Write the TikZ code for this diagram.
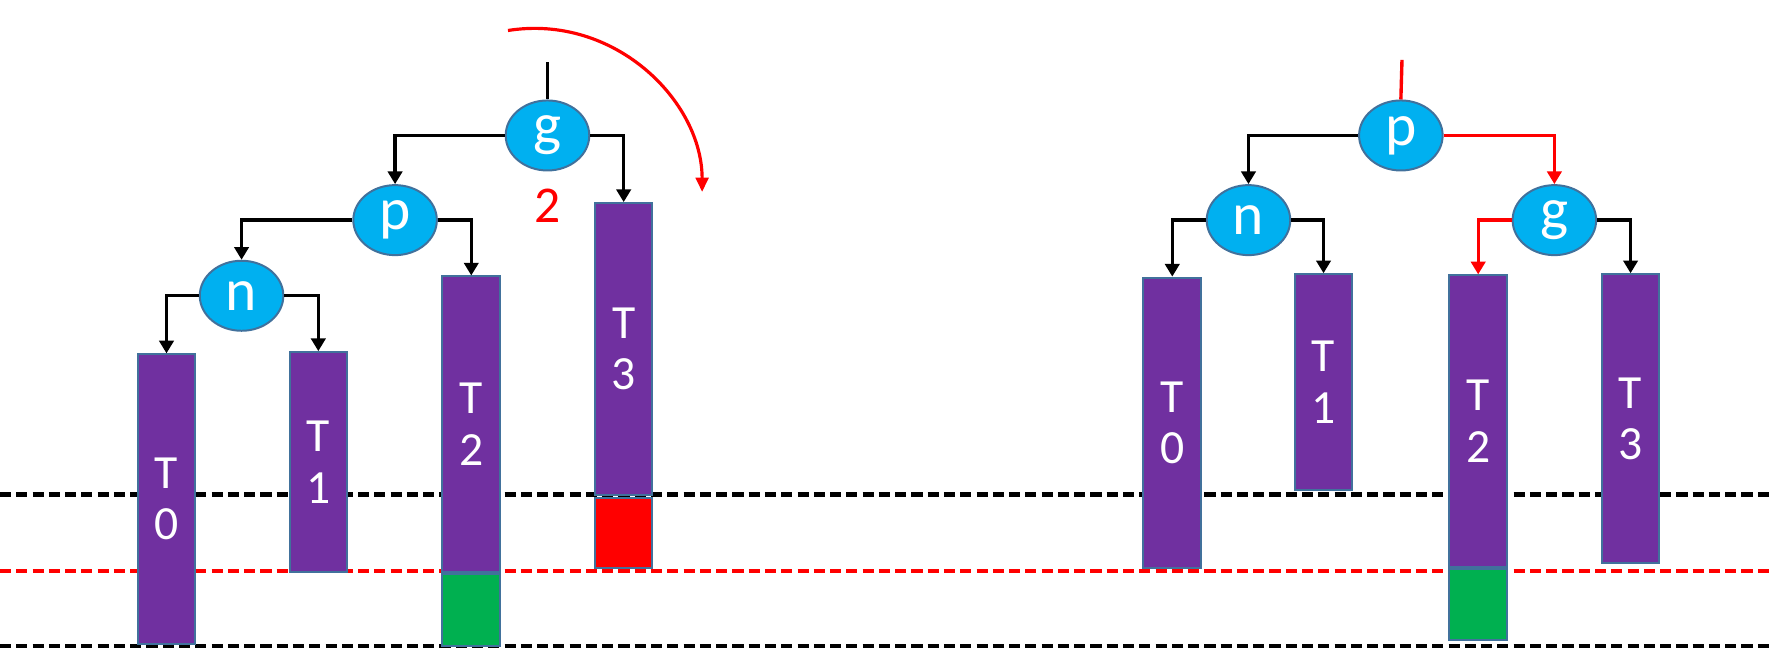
\documentclass[tikz,border=0pt]{standalone}
\usepackage{fontspec}
\setmainfont{Carlito}
\usetikzlibrary{arrows.meta, shapes.geometric, positioning}
\definecolor{nodeblue}{HTML}{00B0F0}
\definecolor{edgeblue}{HTML}{41719C}
\definecolor{barpurple}{HTML}{7030A0}
\definecolor{newgreen}{HTML}{00B050}

\begin{document}
\begin{tikzpicture}[
    x=0.01cm, y=-0.01cm,
    vertex/.style={ellipse, draw=edgeblue, line width=0.5pt, fill=nodeblue, minimum width=0.74cm, minimum height=0.62cm, inner sep=0pt, text=white, font=\fontsize{15}{16}\selectfont},
    bar/.style={rectangle, draw=edgeblue, line width=0.5pt, fill=barpurple, minimum width=0.51cm, inner sep=0pt, align=center, text=white, font=\fontsize{12}{13}\selectfont},
    block/.style={rectangle, draw=edgeblue, line width=0.5pt, minimum width=0.51cm, inner sep=0pt},
    arrow/.style={-{Triangle[length=3.2pt, width=3.6pt]}, line width=0.85pt},
    level/.style={dash pattern=on 2.8pt off 1.3pt, line width=1.05pt}
]
\useasboundingbox (0,0) rectangle (1568,581);

% Height levels (drawn first, bars go over them)
\coordinate (top1l) at (0,438);   \coordinate (top1r) at (1568,438);
\coordinate (midl) at (0,506);    \coordinate (midr) at (1568,506);
\coordinate (botl) at (0,572);    \coordinate (botr) at (1568,572);
\draw[level] (top1l) -- (top1r);
\draw[level, red] (midl) -- (midr);
\draw[level] (botl) -- (botr);

% Left tree - before rotation
\node[vertex] (Lg) at (485,120) {g};
\node[vertex] (Lp) at (350,195) {p};
\node[vertex] (Ln) at (214,262) {n};
\node[text=red, font=\fontsize{13}{15}\selectfont] (cnt) at (485,182) {2};

\node[bar, minimum height=2.56cm] (L0) at (147.5,442) {T\\0};
\node[bar, minimum height=1.95cm] (L1) at (282,409.5) {T\\1};
\node[bar, minimum height=2.62cm] (L2) at (417.5,376) {T\\2};
\node[block, fill=newgreen, minimum height=0.63cm, anchor=north] (L2g) at (L2.south) {};
\node[bar, minimum height=2.58cm] (L3) at (552.5,309) {T\\3};
\node[block, fill=red, minimum height=0.62cm, anchor=north] (L3r) at (552.5,440) {};

\coordinate (Ltop) at (485,55);
\draw[line width=0.85pt] (Ltop) -- (Lg.north);
\draw[arrow] (Lg.west) -| (Lp.north);
\draw[arrow] (Lg.east) -| (L3.north);
\draw[arrow] (Lp.west) -| (Ln.north);
\draw[arrow] (Lp.east) -| (L2.north);
\draw[arrow] (Ln.west) -| (L0.north);
\draw[arrow] (Ln.east) -| (L1.north);

% Rotation arrow
\coordinate (rotA) at (450,27);
\coordinate (rotB) at (622,170);
\draw[red, line width=0.8pt, -{Triangle[length=3.6pt, width=3.2pt]}] (rotA) .. controls (545,12) and (622,90) .. (rotB);

% Right tree - after rotation
\node[vertex] (Rp) at (1241,120) {p};
\node[vertex] (Rn) at (1106,195) {n};
\node[vertex] (Rg) at (1377,195) {g};

\node[bar, minimum height=2.57cm] (R0) at (1038.5,374.5) {T\\0};
\node[bar, minimum height=1.91cm] (R1) at (1172.5,338.5) {T\\1};
\node[bar, minimum height=2.58cm] (R2) at (1309.5,373) {T\\2};
\node[block, fill=newgreen, minimum height=0.63cm, anchor=north] (R2g) at (R2.south) {};
\node[bar, minimum height=2.56cm] (R3) at (1444.5,371) {T\\3};

\coordinate (Rtop) at (1242,53);
\draw[red, line width=0.85pt] (Rtop) -- (Rp.north);
\draw[arrow] (Rp.west) -| (Rn.north);
\draw[arrow, red] (Rp.east) -| (Rg.north);
\draw[arrow] (Rn.west) -| (R0.north);
\draw[arrow] (Rn.east) -| (R1.north);
\draw[arrow, red] (Rg.west) -| (R2.north);
\draw[arrow] (Rg.east) -| (R3.north);

\end{tikzpicture}
\end{document}
